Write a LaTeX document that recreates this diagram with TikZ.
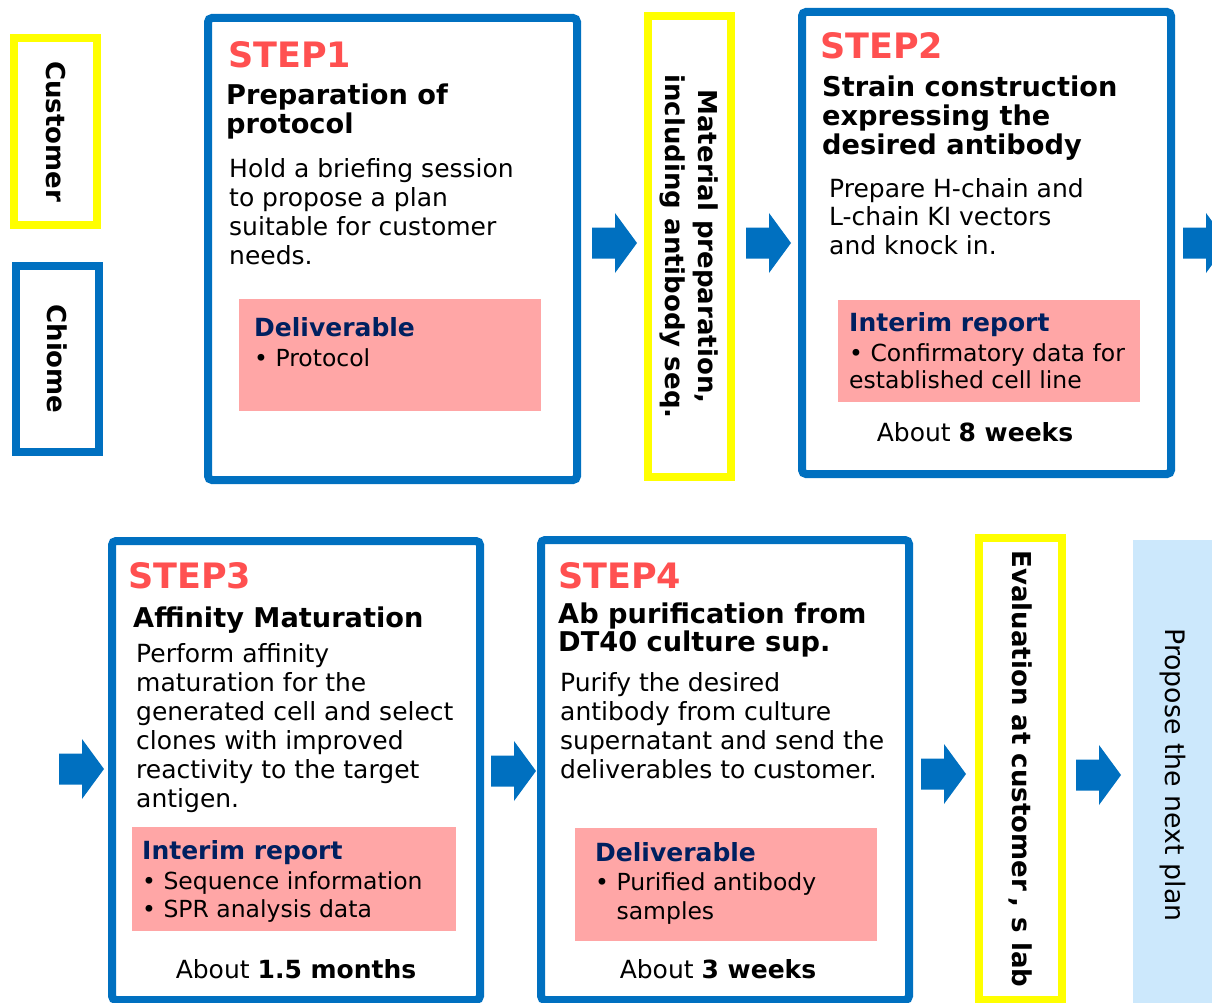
\documentclass[tikz,border=0pt]{standalone}
\usepackage{fontspec}
\setmainfont{DejaVu Sans}
\usetikzlibrary{positioning}

\definecolor{chiomeblue}{HTML}{0070C0}
\definecolor{custyellow}{HTML}{FFFF00}
\definecolor{steplabel}{HTML}{FF5050}
\definecolor{reportnavy}{HTML}{002060}
\definecolor{reportpink}{HTML}{FFA6A6}
\definecolor{planblue}{HTML}{CCE8FC}

% block arrow, drawn from its left end
\newcommand{\flowarrow}[1]{\fill[flow] (#1) ++(0,-15.5) -- ++(23,0) -- ++(0,-14.5) -- ++(22,30) -- ++(-22,30) -- ++(0,-14.5) -- ++(-23,0) -- cycle;}

\begin{document}
\begin{tikzpicture}[
    x=1pt, y=-1pt,
    stepbox/.style={draw=chiomeblue,line width=8pt,rounded corners=4pt,inner sep=0pt},
    sidebox/.style={draw=#1,line width=8pt,inner sep=0pt,rotate=-90,align=center,
        font=\fontsize{26}{33}\selectfont\bfseries},
    steptitle/.style={anchor=north west,inner sep=0pt,text=steplabel,font=\fontsize{35}{40}\selectfont\bfseries},
    heading/.style={anchor=north west,inner sep=0pt,align=left,font=\fontsize{27.2}{29}\selectfont\bfseries},
    body/.style={anchor=north west,inner sep=0pt,align=left,font=\fontsize{25}{29}\selectfont},
    report/.style={fill=reportpink,inner sep=0pt,anchor=north west},
    reporthead/.style={anchor=north west,inner sep=0pt,text=reportnavy,font=\fontsize{25}{29}\selectfont\bfseries},
    reportitem/.style={anchor=north west,inner sep=0pt,align=left,font=\fontsize{23.5}{28}\selectfont},
    duration/.style={inner sep=0pt,font=\fontsize{25}{29}\selectfont},
    flow/.style={fill=chiomeblue}
]
    \useasboundingbox (0,0) rectangle (1212,1003);
    \clip (0,0) rectangle (1212,1003);

    % who does what
    \node[sidebox=custyellow,minimum width=187,minimum height=83] (customer) at (55.5,131.5) {Customer};
    \node[sidebox=chiomeblue,minimum width=186,minimum height=83] (chiome) at (57.5,359) {Chiome};

    % STEP1
    \node[stepbox,minimum width=369,minimum height=462] (step1) at (392.5,249) {};
    \node[steptitle] (s1label) at (228,41) {STEP1};
    \node[heading] (s1head) at (226,84) {Preparation of\\protocol};
    \node[body] (s1text) at (229,158) {Hold a briefing session\\to propose a plan\\suitable for customer\\needs.};
    \node[report,minimum width=302,minimum height=112] (s1report) at (239,299) {};
    \node[reporthead] (s1deliv) at (254,317) {Deliverable};
    \node[reportitem] (s1item) at (254,348) {• Protocol};

    \node[sidebox=custyellow,minimum width=461,minimum height=83] (material) at (689.5,246.5)
        {Material preparation,\\including antibody seq.};

    % STEP2
    \node[stepbox,minimum width=369,minimum height=462] (step2) at (986.5,243) {};
    \node[steptitle] (s2label) at (820,32) {STEP2};
    \node[heading] (s2head) at (822,76) {Strain construction\\expressing the\\desired antibody};
    \node[body,font=\fontsize{25}{28.5}\selectfont] (s2text) at (829,178) {Prepare H-chain and\\L-chain KI vectors\\and knock in.};
    \node[report,minimum width=302,minimum height=102] (s2report) at (838,300) {};
    \node[reporthead] (s2interim) at (849,312) {Interim report};
    \node[reportitem,font=\fontsize{23.5}{27}\selectfont] (s2item) at (849,343) {• Confirmatory data for\\established cell line};
    \node[duration] (s2time) at (975,432) {About \textbf{8 weeks}};

    % STEP3
    \node[stepbox,minimum width=368,minimum height=459] (step3) at (296,770.5) {};
    \node[steptitle] (s3label) at (128,562) {STEP3};
    \node[heading] (s3head) at (133,607) {Affinity Maturation};
    \node[body] (s3text) at (136,643) {Perform affinity\\maturation for the\\generated cell and select\\clones with improved\\reactivity to the target\\antigen.};
    \node[report,minimum width=324,minimum height=104] (s3report) at (132,827) {};
    \node[reporthead] (s3interim) at (142,840) {Interim report};
    \node[reportitem] (s3item) at (142,871) {• Sequence information\\• SPR analysis data};
    \node[duration] (s3time) at (296,969) {About \textbf{1.5 months}};

    % STEP4
    \node[stepbox,minimum width=368,minimum height=460] (step4) at (725,770) {};
    \node[steptitle] (s4label) at (558,562) {STEP4};
    \node[heading,font=\fontsize{27.2}{28}\selectfont\bfseries] (s4head) at (558,603) {Ab purification from\\DT40 culture sup.};
    \node[body] (s4text) at (560,672) {Purify the desired\\antibody from culture\\supernatant and send the\\deliverables to customer.};
    \node[report,minimum width=302,minimum height=113] (s4report) at (575,828) {};
    \node[reporthead] (s4deliv) at (595,842) {Deliverable};
    \node[reportitem,font=\fontsize{23.5}{29}\selectfont] (s4item) at (595,872) {• Purified antibody\\\phantom{• }samples};
    \node[duration] (s4time) at (718,969) {About \textbf{3 weeks}};

    \node[sidebox=custyellow,minimum width=462,minimum height=83] (evaluation) at (1020.5,769)
        {Evaluation at customer\hspace{7pt},\hspace{10pt}s lab};
    \node[fill=planblue,inner sep=0pt,rotate=-90,minimum width=470,minimum height=79,
        font=\fontsize{26.8}{30}\selectfont] (nextplan) at (1172.5,775) {Propose the next plan};

    % arrows between the stages
    \coordinate (a1) at (592,243);
    \coordinate (a2) at (746,243);
    \coordinate (a3) at (1183,243);
    \coordinate (a4) at (59,769);
    \coordinate (a5) at (491,771);
    \coordinate (a6) at (921,774);
    \coordinate (a7) at (1076,775);
    \foreach \a in {a1,a2,a3,a4,a5,a6,a7}
        {\flowarrow{\a}}
\end{tikzpicture}
\end{document}
